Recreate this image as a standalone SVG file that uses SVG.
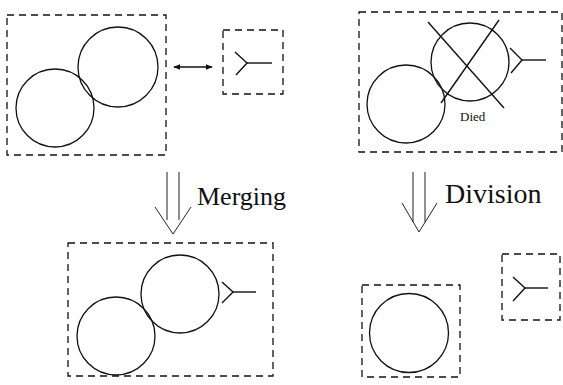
<svg xmlns="http://www.w3.org/2000/svg" width="563" height="385" viewBox="0 0 563 385">
  <style>
    .box { fill: none; stroke: #111; stroke-width: 1.3; stroke-dasharray: 7 5; }
    .cell { fill: none; stroke: #111; stroke-width: 1.3; }
    .line { fill: none; stroke: #111; stroke-width: 1.4; }
    .thin { fill: none; stroke: #222; stroke-width: 1; }
    text { font-family: "Liberation Serif", "DejaVu Serif", "Times New Roman", serif; fill: #111; }
  </style>
  <defs>
    <marker id="tip" viewBox="0 0 10 10" refX="9" refY="5" markerWidth="5" markerHeight="5" orient="auto-start-reverse">
      <path d="M0,1 L10,5 L0,9 Z" fill="#111"/>
    </marker>
  </defs>
  <rect width="563" height="385" fill="#fff"/>

  <!-- top left: pair of cells -->
  <g id="pair-top">
    <rect class="box" x="7" y="15" width="159" height="140"/>
    <circle class="cell" cx="118" cy="67" r="40"/>
    <circle class="cell" cx="55" cy="108" r="39"/>
  </g>

  <!-- top: free tail -->
  <g id="tail-top">
    <rect class="box" x="223" y="30" width="60" height="64"/>
    <polyline class="line" points="235,52 247,63 236,75"/>
    <line class="line" x1="247" y1="63" x2="272" y2="63"/>
  </g>

  <!-- top right: pair with the dying cell -->
  <g id="pair-died">
    <rect class="box" x="359" y="12" width="203" height="140"/>
    <circle class="cell" cx="406" cy="104" r="39"/>
    <circle class="cell" cx="470" cy="62" r="39"/>
    <line class="line" x1="428" y1="22" x2="504" y2="108"/>
    <line class="line" x1="499" y1="20" x2="441" y2="103"/>
    <polyline class="line" points="510,48 522,60 511,73"/>
    <line class="line" x1="522" y1="60" x2="546" y2="60"/>
    <text x="460" y="121" font-size="13" font-family="Liberation Serif, DejaVu Serif, serif">Died</text>
  </g>

  <!-- bottom left: merged pair with tail -->
  <g id="pair-merged">
    <rect class="box" x="68" y="243" width="205" height="133"/>
    <circle class="cell" cx="180" cy="294" r="39"/>
    <circle class="cell" cx="116" cy="336" r="39"/>
    <polyline class="line" points="222,282 233,292 222,303"/>
    <line class="line" x1="233" y1="292" x2="256" y2="292"/>
  </g>

  <!-- bottom right: single cell -->
  <g id="single-cell">
    <rect class="box" x="362" y="285" width="98" height="92"/>
    <circle class="cell" cx="409" cy="333" r="39.5"/>
  </g>

  <!-- bottom right: released tail -->
  <g id="tail-released">
    <rect class="box" x="502" y="254" width="58" height="66"/>
    <polyline class="line" points="513,277 525,288 513,301"/>
    <line class="line" x1="525" y1="288" x2="548" y2="288"/>
  </g>

  <g id="connectors">
    <line class="line" x1="174" y1="67" x2="212" y2="67" marker-start="url(#tip)" marker-end="url(#tip)"/>
    <!-- merging arrow -->
    <line class="thin" x1="167" y1="172" x2="167" y2="220"/>
    <line class="thin" x1="179" y1="172" x2="179" y2="220"/>
    <polyline class="thin" points="155,207 173,234 191,207"/>
    <text x="197" y="205" font-size="26" font-family="Liberation Serif, DejaVu Serif, serif">Merging</text>
    <!-- division arrow -->
    <line class="thin" x1="413" y1="172" x2="413" y2="222"/>
    <line class="thin" x1="425" y1="172" x2="425" y2="222"/>
    <polyline class="thin" points="402,203 419,232 437,203"/>
    <text x="445" y="203" font-size="28" font-family="Liberation Serif, DejaVu Serif, serif">Division</text>
  </g>
</svg>
